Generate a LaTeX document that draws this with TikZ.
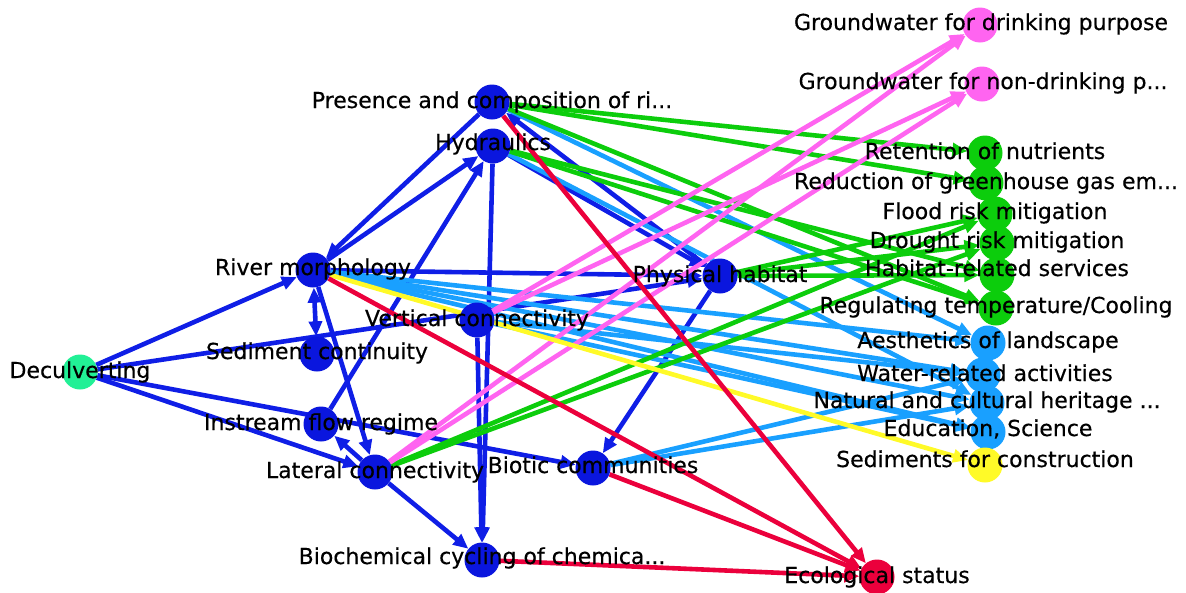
\documentclass[tikz,border=0pt]{standalone}
\usepackage{fontspec}
\setmainfont{DejaVu Sans}
\newfontfamily\labelfont{DejaVu Sans}[FakeBold=0.4]
\usetikzlibrary{arrows.meta}
\pgfdeclarelayer{edges}
\pgfsetlayers{edges,main}

% node fills
\definecolor{nBlue}{RGB}{10,22,222}
\definecolor{nSpring}{RGB}{34,240,150}
\definecolor{nPink}{RGB}{255,100,240}
\definecolor{nGreen}{RGB}{12,205,12}
\definecolor{nSky}{RGB}{25,160,255}
\definecolor{nYellow}{RGB}{255,250,40}
\definecolor{nRed}{RGB}{235,0,60}
% connector colours
\definecolor{eBlue}{RGB}{15,30,230}

\tikzset{
  vtx/.style={circle, minimum size=35pt, inner sep=0pt, draw=none, fill=#1},
  lbl/.style={anchor=base, inner sep=0pt, text=black,
              font=\labelfont\fontsize{22}{24}\selectfont},
  lnk/.style={line width=4.6pt, draw=#1, -{Triangle[length=15pt,width=13pt]}},
  lnkboth/.style={line width=4.6pt, draw=#1,
              {Triangle[length=15pt,width=13pt]}-{Triangle[length=15pt,width=13pt]}},
}

\begin{document}
\begin{tikzpicture}[x=1pt,y=-1pt]
\useasboundingbox (0,0) rectangle (1186,592);

% ---------- nodes ----------
\node[vtx=nSpring] (decul) at (80,372) {};
\node[vtx=nBlue] (pres) at (492,102) {};
\node[vtx=nBlue] (hyd) at (493,146) {};
\node[vtx=nBlue] (rm) at (313,270) {};
\node[vtx=nBlue] (sed) at (317,354) {};
\node[vtx=nBlue] (vert) at (477,320) {};
\node[vtx=nBlue] (instream) at (321,424) {};
\node[vtx=nBlue] (lateral) at (375,472) {};
\node[vtx=nBlue] (biotic) at (593,468) {};
\node[vtx=nBlue] (biochem) at (482,560) {};
\node[vtx=nBlue] (ph) at (720,276) {};
\node[vtx=nRed] (eco) at (877,577) {};
\node[vtx=nPink] (gwa) at (980,25) {};
\node[vtx=nPink] (gwb) at (982,84) {};
\node[vtx=nGreen] (ret) at (985,153) {};
\node[vtx=nGreen] (red) at (986,183) {};
\node[vtx=nGreen] (flood) at (995,214) {};
\node[vtx=nGreen] (drought) at (997,243) {};
\node[vtx=nGreen] (hab) at (997,275) {};
\node[vtx=nGreen] (reg) at (996,308) {};
\node[vtx=nSky] (aes) at (988,343) {};
\node[vtx=nSky] (water) at (983,375) {};
\node[vtx=nSky] (nat) at (987,403) {};
\node[vtx=nSky] (edu) at (988,432) {};
\node[vtx=nYellow] (sedc) at (985,465) {};

% ---------- connectors ----------
\begin{pgfonlayer}{edges}
% within the river system
\draw[lnk=eBlue] (decul) -- (rm);
\draw[lnk=eBlue] (decul) -- (ph);
\draw[lnk=eBlue] (decul) -- (biotic);
\draw[lnk=eBlue] (decul) -- (lateral);
\draw[lnk=eBlue] (pres) -- (rm);
\draw[lnk=eBlue] (rm) -- (hyd);
\draw[lnk=eBlue] (instream) -- (hyd);
\draw[lnkboth=eBlue] (rm) -- (sed);
\draw[lnk=eBlue] (rm) -- (lateral);
\draw[lnk=eBlue] (rm) -- (ph);
\draw[lnk=eBlue] (ph) -- (pres);
\draw[lnk=eBlue] (hyd) -- (ph);
\draw[lnk=eBlue] (hyd) -- (biochem);
\draw[lnk=eBlue] (vert) -- (biochem);
\draw[lnk=eBlue] (lateral) -- (instream);
\draw[lnk=eBlue] (lateral) -- (biochem);
\draw[lnk=eBlue] (ph) -- (biotic);
% cultural services
\draw[lnk=nSky] (pres) -- (aes);
\draw[lnk=nSky] (hyd) -- (nat);
\draw[lnk=nSky] (rm) -- (aes);
\draw[lnk=nSky] (rm) -- (water);
\draw[lnk=nSky] (rm) -- (nat);
\draw[lnk=nSky] (rm) -- (edu);
\draw[lnk=nSky] (vert) -- (water);
\draw[lnk=nSky] (vert) -- (edu);
\draw[lnk=nSky] (biotic) -- (water);
\draw[lnk=nSky] (biotic) -- (nat);
% regulating services
\draw[lnk=nGreen] (pres) -- (ret);
\draw[lnk=nGreen] (pres) -- (red);
\draw[lnk=nGreen] (pres) -- (reg);
\draw[lnk=nGreen] (hyd) -- (reg);
\draw[lnk=nGreen] (hyd) -- (hab);
\draw[lnk=nGreen] (ph) -- (flood);
\draw[lnk=nGreen] (ph) -- (drought);
\draw[lnk=nGreen] (ph) -- (hab);
\draw[lnk=nGreen] (lateral) -- (flood);
\draw[lnk=nGreen] (lateral) -- (drought);
% provisioning services
\draw[lnk=nPink] (lateral) -- (gwa);
\draw[lnk=nPink] (lateral) -- (gwb);
\draw[lnk=nPink] (vert) -- (gwa);
\draw[lnk=nPink] (vert) -- (gwb);
\draw[lnk=nYellow] (rm) -- (sedc);
% ecological status
\draw[lnk=nRed] (pres) -- (eco);
\draw[lnk=nRed] (rm) -- (eco);
\draw[lnk=nRed] (biotic) -- (eco);
\draw[lnk=nRed] (biochem) -- (eco);
\end{pgfonlayer}

% ---------- labels ----------
\node[lbl] (decul-t) at ([yshift=-6pt]decul.center) {Deculverting};
\node[lbl] (pres-t) at ([yshift=-6pt]pres.center) {Presence and composition of ri...};
\node[lbl] (hyd-t) at ([yshift=-4pt]hyd.center) {Hydraulics};
\node[lbl] (rm-t) at ([yshift=-5pt]rm.center) {River morphology};
\node[lbl] (sed-t) at ([yshift=-5pt]sed.center) {Sediment continuity};
\node[lbl] (vert-t) at ([yshift=-6pt]vert.center) {Vertical connectivity};
\node[lbl] (instream-t) at ([yshift=-6pt]instream.center) {Instream flow regime};
\node[lbl] (lateral-t) at ([yshift=-6pt]lateral.center) {Lateral connectivity};
\node[lbl] (biotic-t) at ([yshift=-5pt]biotic.center) {Biotic communities};
\node[lbl] (biochem-t) at ([yshift=-4pt]biochem.center) {Biochemical cycling of chemica...};
\node[lbl] (ph-t) at ([yshift=-6pt]ph.center) {Physical habitat};
\node[lbl] (eco-t) at ([yshift=-6pt]eco.center) {Ecological status};
\node[lbl] (gwa-t) at ([yshift=-5pt,xshift=1pt]gwa.center) {Groundwater for drinking purpose};
\node[lbl] (gwb-t) at ([yshift=-5pt,xshift=1pt]gwb.center) {Groundwater for non-drinking p...};
\node[lbl] (ret-t) at ([yshift=-6pt]ret.center) {Retention of nutrients};
\node[lbl] (red-t) at ([yshift=-6pt]red.center) {Reduction of greenhouse gas em...};
\node[lbl] (flood-t) at ([yshift=-5pt]flood.center) {Flood risk mitigation};
\node[lbl] (drought-t) at ([yshift=-5pt]drought.center) {Drought risk mitigation};
\node[lbl] (hab-t) at ([yshift=-1pt]hab.center) {Habitat-related services};
\node[lbl] (reg-t) at ([yshift=-5pt]reg.center) {Regulating temperature/Cooling};
\node[lbl] (aes-t) at ([yshift=-5pt]aes.center) {Aesthetics of landscape};
\node[lbl] (water-t) at ([yshift=-6pt,xshift=2pt]water.center) {Water-related activities};
\node[lbl] (nat-t) at ([yshift=-5pt]nat.center) {Natural and cultural heritage ...};
\node[lbl] (edu-t) at ([yshift=-4pt]edu.center) {Education, Science};
\node[lbl] (sedc-t) at ([yshift=-2pt]sedc.center) {Sediments for construction};
\end{tikzpicture}
\end{document}
